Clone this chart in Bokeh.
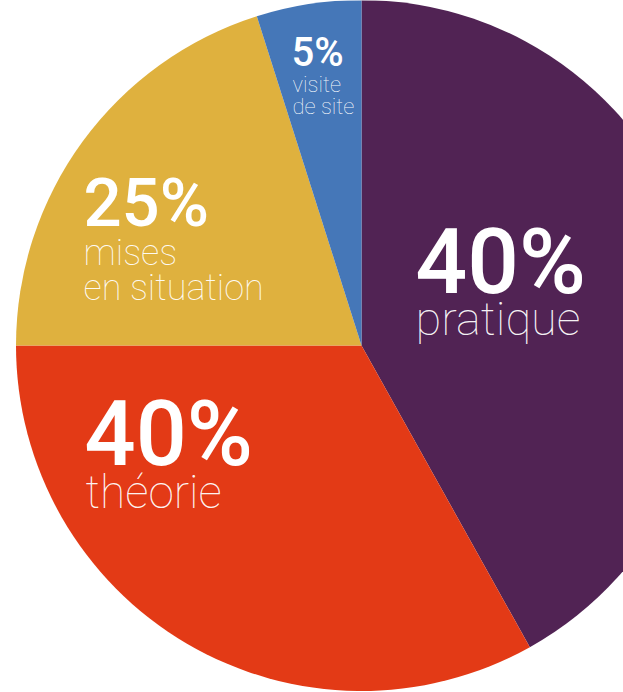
import numpy as np
from bokeh.plotting import figure
from bokeh.models import Range1d, ColumnDataSource
from bokeh.core.properties import value
from bokeh.embed import file_html
from bokeh.resources import INLINE

# data (share of the circle, in %)
categories = ["pratique", "théorie", "mises en situation", "visite de site"]
shares = [41.9, 33.1, 20.1, 4.9]
colors = ["#512354", "#e33a16", "#dfb13e", "#4577b8"]
pct_labels = ["40%", "40%", "25%", "5%"]
sub_labels = [["pratique"], ["théorie"], ["mises", "en situation"], ["visite", "de site"]]

W, H = 623, 692
p = figure(width=W, height=H, output_backend="svg", toolbar_location=None,
           x_range=Range1d(0, W), y_range=Range1d(0, H), min_border=0)
p.axis.visible = False
p.grid.visible = False
p.outline_line_color = None
p.background_fill_color = "white"
p.border_fill_color = "white"

def Y(ys):
    return H - ys

cx, cy, r = 361, Y(345), 345.5
fr = np.array(shares) / sum(shares)
ends = np.pi / 2 - 2 * np.pi * np.cumsum(fr)
starts = np.concatenate([[np.pi / 2], ends[:-1]])
src = ColumnDataSource(dict(start=ends, end=starts, color=colors, cat=categories))
p.wedge(x=cx, y=cy, radius=r, start_angle="start", end_angle="end",
        fill_color="color", line_color=None, source=src)

K = 0.33  # baseline correction (fraction of font size)
# label layout (screen px): pct x, pct baseline, pct size, sub x, sub baselines, sub size
layout = [
    (415, 292, 91, 415, [334], 47),
    (84, 464, 90, 85, [507], 46),
    (83, 225, 67, 83, [264, 299], 36),
    (291, 65, 40, 292, [91, 113], 22),
]
for (px, pb, ps, sx, sbs, ss), pl, sl in zip(layout, pct_labels, sub_labels):
    p.text(x=[px], y=[Y(pb - K * ps)], text=[pl], text_font=value("Roboto Medium"),
           text_font_size=f"{ps}px", text_color="white",
           text_baseline="alphabetic", text_align="left")
    for sb, t in zip(sbs, sl):
        p.text(x=[sx], y=[Y(sb - K * ss)], text=[t], text_font=value("Roboto Thin"),
               text_font_size=f"{ss}px", text_color="white", text_alpha=0.95,
               text_baseline="alphabetic", text_align="left")

open("out.html", "w").write(file_html(p, INLINE))
